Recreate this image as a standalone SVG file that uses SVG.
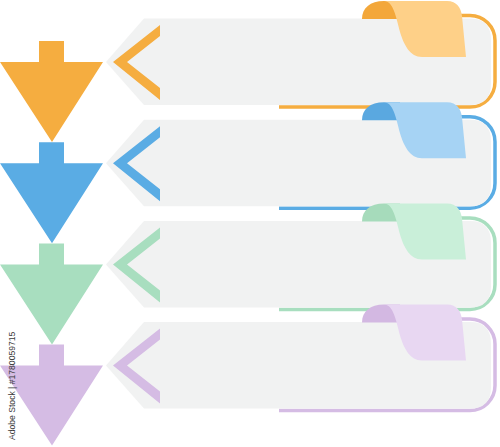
<svg xmlns="http://www.w3.org/2000/svg" xmlns:xlink="http://www.w3.org/1999/xlink" width="500" height="447" viewBox="0 0 500 447">
<style>
.panel{fill:#F1F2F2}
.outline{fill:none;stroke-width:3.5}
.o .main{fill:#F5AD40}.o .outline{stroke:#F5AD40}.o .light{fill:#FED088}.o .dark{fill:#F3A73A}
.b .main{fill:#5AACE4}.b .outline{stroke:#5AACE4}.b .light{fill:#A6D3F4}.b .dark{fill:#5AA8E0}
.g .main{fill:#A8DEBF}.g .outline{stroke:#A8DEBF}.g .light{fill:#C9EFD9}.g .dark{fill:#A6DBBB}
.p .main{fill:#D5BCE4}.p .outline{stroke:#D5BCE4}.p .light{fill:#E8D7F2}.p .dark{fill:#D3B8E2}
.wm{font-family:"Liberation Sans",Arial,sans-serif;font-size:8.6px;fill:#3a3a3a}
</style>
<defs>
<path id="arrow" d="M39,41 H64 V62 H103 L52,142 L0,62 H39 Z"/>
<path id="panelShape" d="M106,62 L144,18.5 L470,18.5 Q491,18.5 491,40 L491,84 Q491,105 470,105 L144,105 Z"/>
<path id="chev" d="M160,25 L160,36 L127,62 L160,88 L160,100 L113,62 Z"/>
<path id="outlinePath" d="M450,15.5 L470,15.5 A25,25 0 0 1 495,40.5 L495,82 A25,25 0 0 1 470,107 L279,107"/>
<path id="tabDark" d="M362,19 C362,8 370,1 384,1 L400,1 L400,19 Z"/>
<path id="tabLight" d="M384,1 L447,1 C457,1 461,8 462,16 L466,57 L422,57 C410,57 404,45 400,32 C396,16 393,1 384,1 Z"/>
</defs>
<g id="step1" class="o">
<use href="#arrow" class="main"/>
<use href="#outlinePath" class="outline"/>
<use href="#panelShape" class="panel"/>
<use href="#chev" class="main"/>
<use href="#tabDark" class="dark"/>
<use href="#tabLight" class="light"/>
</g>
<g id="step2" class="b" transform="translate(0,101.2)">
<use href="#arrow" class="main"/>
<use href="#outlinePath" class="outline"/>
<use href="#panelShape" class="panel"/>
<use href="#chev" class="main"/>
<use href="#tabDark" class="dark"/>
<use href="#tabLight" class="light"/>
</g>
<g id="step3" class="g" transform="translate(0,202.4)">
<use href="#arrow" class="main"/>
<use href="#outlinePath" class="outline"/>
<use href="#panelShape" class="panel"/>
<use href="#chev" class="main"/>
<use href="#tabDark" class="dark"/>
<use href="#tabLight" class="light"/>
</g>
<g id="step4" class="p" transform="translate(0,303.6)">
<use href="#arrow" class="main"/>
<use href="#outlinePath" class="outline"/>
<use href="#panelShape" class="panel"/>
<use href="#chev" class="main"/>
<use href="#tabDark" class="dark"/>
<use href="#tabLight" class="light"/>
</g>
<g id="connectors"/>
<text class="wm" transform="translate(14.5,440) rotate(-90)">Adobe Stock | #1780059715</text>
</svg>
